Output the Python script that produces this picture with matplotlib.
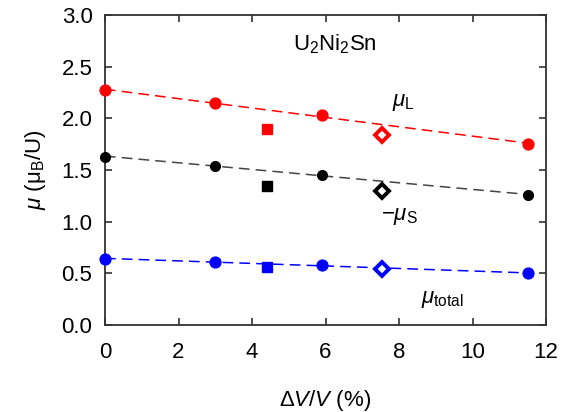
import numpy as np
import matplotlib
matplotlib.use("Agg")
import matplotlib.pyplot as plt

plt.rcParams['font.family'] = ['Liberation Sans', 'DejaVu Sans']
plt.rcParams['mathtext.fontset'] = 'custom'
plt.rcParams['mathtext.rm'] = 'Liberation Sans'
plt.rcParams['mathtext.it'] = 'Liberation Sans:italic'

# Data
dv_circles = [0.0, 3.0, 5.9, 11.5]
muL_circles = [2.27, 2.15, 2.03, 1.75]
muS_circles = [1.63, 1.54, 1.45, 1.26]
mut_circles = [0.64, 0.61, 0.58, 0.50]

dv_square = [4.4]
muL_square = [1.90]
muS_square = [1.35]
mut_square = [0.56]

dv_diamond = [7.55]
muL_diamond = [1.84]
muS_diamond = [1.30]
mut_diamond = [0.545]

series = [
    (muL_circles, muL_square, muL_diamond, '#ff0000', '#ff0000', 7.8),
    (muS_circles, muS_square, muS_diamond, 'black', '#444444', 7.0),
    (mut_circles, mut_square, mut_diamond, '#0000ff', '#0000ff', 7.8),
]

fig = plt.figure(figsize=(5.74, 4.12), dpi=100)
ax = fig.add_axes([105/574, 1-325/412, (546-105)/574, (325-15)/412])

xfit = np.array([0.0, 11.5])
for circ, sq, dia, col, lcol, ms in series:
    p = np.polyfit(dv_circles, circ, 1)
    ax.plot(xfit, np.polyval(p, xfit), ls=(0, (7, 4)), color=lcol, lw=1.1, zorder=2)
    ax.plot(dv_circles, circ, 'o', color=col, ms=ms, mec=col, zorder=3, clip_on=False)
    ax.plot(dv_square, sq, 's', color=col, ms=7.0, zorder=3)
    ax.plot(dv_diamond, dia, 'D', mfc='white', mec=col, mew=2.8, ms=7.0, zorder=3)

ax.set_xlim(0, 12)
ax.set_ylim(0, 3)
ax.set_xticks(np.arange(0, 13, 2))
ax.set_yticks(np.arange(0, 3.01, 0.5))
ax.set_yticklabels([f"{v:.1f}" for v in np.arange(0, 3.01, 0.5)])
ax.tick_params(direction='in', top=True, right=True, length=5, width=1.2,
               labelsize=16, color='#333333')
ax.tick_params(axis='x', pad=12)
ax.tick_params(axis='y', pad=9)
for s in ax.spines.values():
    s.set_linewidth(1.3)
    s.set_color('#333333')

ax.set_xlabel(r'$\Delta$$\mathit{V}$/$\mathit{V}$ (%)', fontsize=16, labelpad=18)
ax.set_ylabel(r'$\mathit{\mu}$ ($\mathrm{\mu}_{\rm B}$/U)', fontsize=16, labelpad=10)

ax.text(6.25, 2.72, r'U$_2$Ni$_2$Sn', fontsize=16, ha='center', va='center')
ax.text(7.8, 2.15, r'$\mu_{\rm L}$', fontsize=16, ha='left', va='center')
ax.text(7.5, 1.05, r'$-\mu_{\rm S}$', fontsize=16, ha='left', va='center')
ax.text(8.6, 0.25, r'$\mu_{\rm total}$', fontsize=16, ha='left', va='center')

fig.savefig('out.png', dpi=100)
